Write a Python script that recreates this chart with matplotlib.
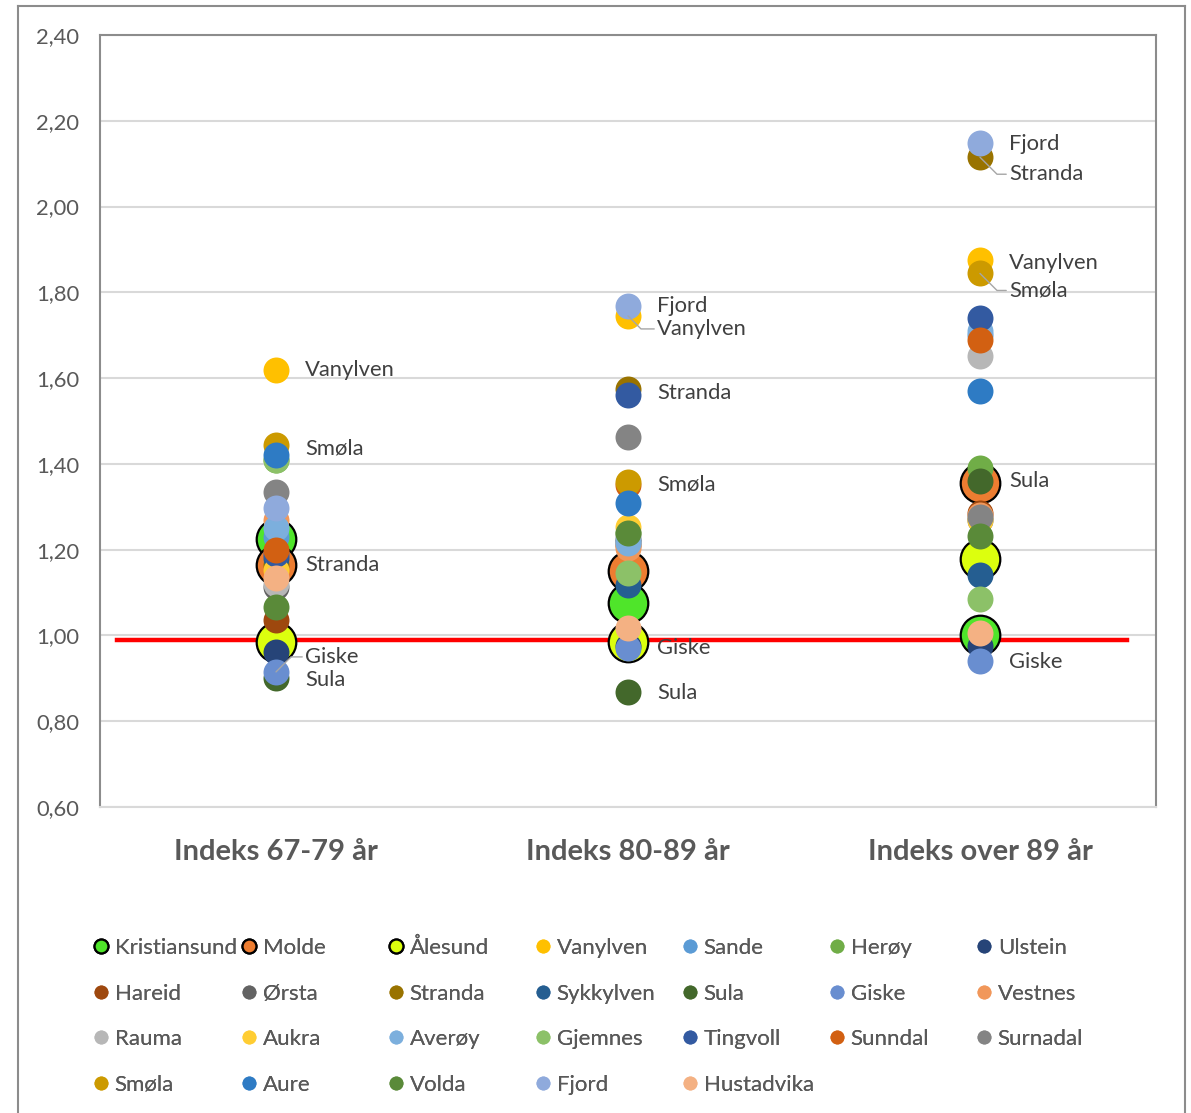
import matplotlib
matplotlib.use("Agg")
import matplotlib.pyplot as plt
from matplotlib.lines import Line2D
from matplotlib.ticker import FuncFormatter, MultipleLocator

categories = ["Indeks 67-79 år", "Indeks 80-89 år", "Indeks over 89 år"]

municipalities = ["Kristiansund", "Molde", "Ålesund", "Vanylven", "Sande", "Herøy", "Ulstein",
                  "Hareid", "Ørsta", "Stranda", "Sykkylven", "Sula", "Giske", "Vestnes",
                  "Rauma", "Aukra", "Averøy", "Gjemnes", "Tingvoll", "Sunndal", "Surnadal",
                  "Smøla", "Aure", "Volda", "Fjord", "Hustadvika"]

# index values per age group, same order as municipalities
values_67_79 = [1.225, 1.165, 0.985, 1.62, 1.23, 1.41, 0.962,
                1.036, 1.113, 1.165, 1.18, 0.90, 0.915, 1.27,
                1.12, 1.153, 1.25, 1.41, 1.19, 1.20, 1.335,
                1.444, 1.42, 1.066, 1.297, 1.134]
values_80_89 = [1.075, 1.15, 0.985, 1.745, 1.225, 1.24, 0.975,
                1.21, 1.22, 1.575, 1.118, 0.868, 0.97, 1.205,
                1.23, 1.253, 1.215, 1.145, 1.56, 1.35, 1.463,
                1.358, 1.309, 1.239, 1.768, 1.017]
values_over_89 = [1.00, 1.355, 1.178, 1.875, 1.70, 1.39, 0.975,
                  1.285, 1.27, 2.115, 1.14, 1.36, 0.94, 1.28,
                  1.652, 1.27, 1.71, 1.086, 1.74, 1.69, 1.275,
                  1.844, 1.569, 1.232, 2.148, 1.005]

benchmark_level = 0.99

colors = ["#4fe52a", "#ed7d31", "#dcff0e", "#ffc000", "#5b9bd5", "#70ad47", "#264478",
          "#9e480e", "#636363", "#997300", "#255e91", "#43682b", "#698ed0", "#f1975a",
          "#b7b7b7", "#ffcd33", "#7cafdd", "#8cc168", "#335aa1", "#d26012", "#848484",
          "#cc9a00", "#2e7bc4", "#5a8a39", "#8faadc", "#f4b183"]
highlighted = ["Kristiansund", "Molde", "Ålesund"]

# (category index, municipality, label shift down in px, leader angle or None)
data_labels = [(0, "Vanylven", 0, None), (0, "Smøla", 3, None), (0, "Stranda", 0, None),
               (0, "Giske", -15, 45), (0, "Sula", 2, None),
               (1, "Fjord", 0, None), (1, "Vanylven", 13, -45), (1, "Stranda", 4, None),
               (1, "Smøla", 3, None), (1, "Giske", 0, None), (1, "Sula", 1, None),
               (2, "Fjord", 1, None), (2, "Stranda", 17, -45), (2, "Vanylven", 3, None),
               (2, "Smøla", 17, -45), (2, "Sula", 0, None), (2, "Giske", 1, None)]

# legend layout: columns of entries (Excel fills row by row)
legend_cols = 7
legend_x_px = [101, 249, 396, 543, 690, 837, 984]
legend_top_px = 938

W, H = 1191, 1113


def main():
    plt.rcParams['font.family'] = ['Lato', 'DejaVu Sans']
    fig = plt.figure(figsize=(W / 100, H / 100), dpi=100)
    ax = fig.add_axes([100 / W, 1 - 807 / H, 1056 / W, 772 / H])

    series = list(zip(values_67_79, values_80_89, values_over_89))
    xpos = [0.5, 1.5, 2.5]

    ax.axhline(benchmark_level, xmin=0.016, xmax=0.973, color="#ff0000", lw=3.2, zorder=2)

    handles = []
    for i, (name, vals, col) in enumerate(zip(municipalities, series, colors)):
        big = name in highlighted
        ax.plot(xpos, vals, linestyle="none", marker="o",
                markersize=28.5 if big else 18.7,
                markerfacecolor=col,
                markeredgecolor="black" if big else col,
                markeredgewidth=1.6 if big else 0,
                zorder=3 + i)
        handles.append(Line2D([], [], linestyle="none", marker="o", markersize=10,
                              markerfacecolor=col,
                              markeredgecolor="black" if big else col,
                              markeredgewidth=1.6 if big else 0))

    for cat, name, dy, angle in data_labels:
        idx = municipalities.index(name)
        val = series[idx][cat]
        arrow = None
        if angle is not None:
            arrow = dict(arrowstyle="-", color="#a6a6a6", lw=1, shrinkA=0, shrinkB=0,
                         relpos=(0, 0.5),
                         connectionstyle="angle,angleA=0,angleB=%d,rad=0" % angle)
        ax.annotate(name, xy=(xpos[cat], val), xytext=(29, -dy), textcoords="offset pixels",
                    ha="left", va="center", fontsize=15.8, color="#404040",
                    arrowprops=arrow, zorder=40)

    ax.set_xlim(0, 3)
    ax.set_ylim(0.6, 2.4)
    ax.yaxis.set_major_locator(MultipleLocator(0.2))
    ax.yaxis.set_major_formatter(FuncFormatter(lambda v, p: ("%.2f" % v).replace(".", ",")))
    ax.set_xticks(xpos)
    ax.set_xticklabels(categories, fontsize=21, fontweight="bold", color="#595959")
    ax.tick_params(axis="x", length=0, pad=23)
    ax.tick_params(axis="y", length=0, pad=15, labelsize=15.8, labelcolor="#595959")
    ax.yaxis.grid(True, color="#d9d9d9", lw=1.5)
    ax.set_axisbelow(True)
    for side in ["left", "top", "right"]:
        ax.spines[side].set_color("#8c8c8c")
        ax.spines[side].set_linewidth(1.5)
    ax.spines["bottom"].set_color("#d9d9d9")
    ax.spines["bottom"].set_linewidth(1.5)

    # one legend per column so the columns get even spacing like in Excel
    for c in range(legend_cols):
        idx = list(range(c, len(municipalities), legend_cols))
        leg = fig.legend([handles[i] for i in idx], [municipalities[i] for i in idx],
                         loc="upper left",
                         bbox_to_anchor=((legend_x_px[c] - 8) / W, 1 - legend_top_px / H),
                         frameon=False, borderpad=0, borderaxespad=0,
                         handlelength=0.7, handletextpad=0.28, labelspacing=1.15,
                         fontsize=16, labelcolor="#595959")
        fig.add_artist(leg)

    # chart border
    border = dict(color="#8c8c8c", lw=1.5, transform=fig.transFigure)
    fig.add_artist(Line2D([18 / W, 18 / W], [0, 1 - 6 / H], **border))
    fig.add_artist(Line2D([18 / W, 1185 / W], [1 - 6 / H, 1 - 6 / H], **border))
    fig.add_artist(Line2D([1185 / W, 1185 / W], [0, 1 - 6 / H], **border))

    fig.savefig("out.png", dpi=100)


if __name__ == "__main__":
    main()
